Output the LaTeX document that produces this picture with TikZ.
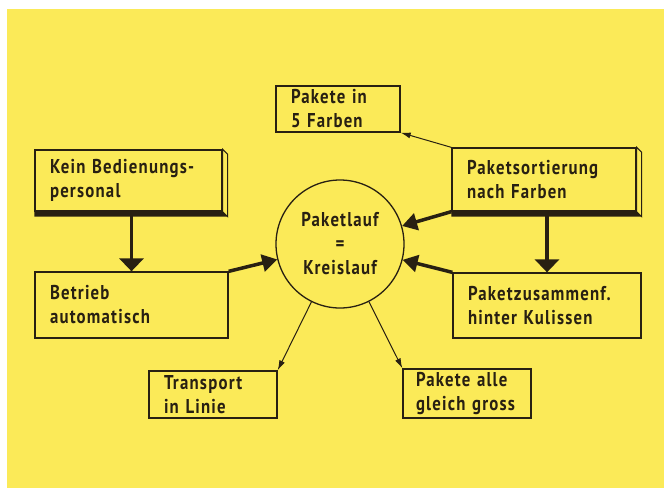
\documentclass[tikz,border=0pt]{standalone}
\usepackage{fontspec}
\setmainfont{PT Sans}[LetterSpace=6,FakeStretch=0.84]
\usetikzlibrary{arrows.meta}
\definecolor{paper}{RGB}{251,234,88}
\definecolor{ink}{RGB}{40,32,18}

\begin{document}
\begin{tikzpicture}
  [x=1pt,y=-1pt,
   every node/.style={draw=ink,line width=1.3pt,rectangle,inner xsep=15pt,
     text=ink,align=left,font=\bfseries\fontsize{20}{24}\selectfont},
   heavy/.style={draw=ink,line width=3.5pt,-{Triangle[length=15pt,width=17pt]}},
   light/.style={draw=ink,line width=1pt,-{Latex[length=10pt,width=6pt]}}]
  \useasboundingbox (0,0) rectangle (668,488);
  \fill[paper] (7,9) rectangle (664,488);
  \node[text width=94pt,minimum height=46pt] (pf) at (338,109) {Pakete in\\5 Farben};
  \node[text width=157pt,minimum height=61pt] (kb) at (128.5,180.5) {Kein Bedienungs-\\personal};
  \node[text width=163pt,minimum height=66pt] (ba) at (131.5,305) {Betrieb\\automatisch};
  \node[circle,align=center,inner sep=0pt,minimum size=128pt] (c) at (340,244) {Paketlauf\\=\\Kreislauf};
  \node[text width=154pt,minimum height=63pt] (ps) at (544,179.5) {Paketsortierung\\nach Farben};
  \node[text width=158pt,minimum height=65pt] (pz) at (547,305.5) {Paketzusammenf.\\hinter Kulissen};
  \node[text width=98pt,minimum height=47pt] (tr) at (213,394.5) {Transport\\in Linie};
  \node[inner xsep=13pt,text width=102pt,minimum height=49pt] (pa) at (467,393.5) {Pakete alle\\gleich gross};
  % raised edge of the two upper boxes
  \foreach \n in {kb,ps} {
    \filldraw[fill=paper,draw=ink,line width=1pt] (\n.north east) -- ++(5,5) -- ([shift={(5pt,-5pt)}]\n.south east) -- (\n.south east) -- cycle;
    \fill[ink] (\n.south west) -- (\n.south east) -- ++(5,5) -- ([yshift=-5pt]\n.south west) -- cycle;
  }
  \draw[heavy,-{Triangle[length=13pt,width=24pt]}] (kb.south -| ba) -- (ba);
  \draw[heavy,-{Triangle[length=13pt,width=24pt]}] (ps.south -| pz) -- (pz);
  \foreach \from/\to in {ba.north east/c,ps.south west/c,pz.north west/c}
    \draw[heavy] (\from) -- (\to);
  \foreach \from/\to in {c/tr.north east,c/pa.north west,ps.north west/pf.south east}
    \draw[light] (\from) -- (\to);
\end{tikzpicture}
\end{document}
